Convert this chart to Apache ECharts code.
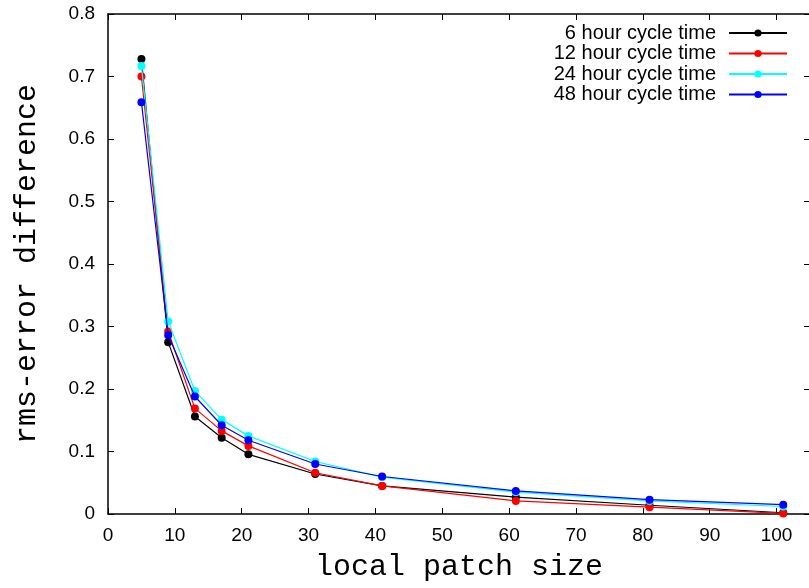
<!DOCTYPE html>
<html>
<head>
<meta charset="utf-8">
<script src="https://cdn.jsdelivr.net/npm/echarts@6/dist/echarts.min.js"></script>
<style>html,body{margin:0;padding:0;background:#fff}#c{width:809px;height:588px}</style>
</head>
<body>
<div id="c"></div>
<script>
var patchSizes = [5, 9, 13, 17, 21, 31, 41, 61, 81, 101];
var cycle6h  = [0.728, 0.275, 0.156, 0.122, 0.0955, 0.064, 0.045, 0.027, 0.014, 0.002];
var cycle12h = [0.700, 0.292, 0.169, 0.133, 0.109, 0.066, 0.045, 0.021, 0.011, 0.001];
var cycle24h = [0.717, 0.308, 0.197, 0.151, 0.125, 0.084, 0.059, 0.035, 0.021, 0.012];
var cycle48h = [0.659, 0.286, 0.188, 0.142, 0.118, 0.080, 0.060, 0.037, 0.023, 0.015];
var seriesNames = ['6 hour cycle time', '12 hour cycle time', '24 hour cycle time', '48 hour cycle time'];
var seriesColors = ['#000000', '#ff0000', '#00ffff', '#0000ff'];
var seriesValues = [cycle6h, cycle12h, cycle24h, cycle48h];

function pairs(xs, ys) { return xs.map(function (x, i) { return [x, ys[i]]; }); }

var chart = echarts.init(document.getElementById('c'), null, {renderer: 'canvas'});
var axisLine = {show: true, onZero: false, lineStyle: {color: '#000', width: 1.5}};
var ticks = {show: true, inside: true, length: 6, lineStyle: {color: '#000', width: 1}};
var lblFont = {color: '#000', fontFamily: 'Liberation Sans', fontSize: 19};
chart.setOption({
  animation: false,
  backgroundColor: '#fff',
  grid: {left: 108, top: 14, width: 702, height: 500, containLabel: false, outerBoundsMode: 'none'},
  legend: {
    orient: 'vertical', right: 16, top: 18, align: 'right',
    itemWidth: 58, itemHeight: 9, itemGap: 0.5,
    textStyle: {color: '#000', fontFamily: 'Liberation Sans', fontSize: 20, lineHeight: 18, padding: [0, 8, 0, 0]},
    data: seriesNames
  },
  xAxis: [{
    type: 'value', min: 0, max: 105, interval: 10, position: 'bottom',
    name: 'local patch size', nameLocation: 'middle', nameGap: 38,
    nameTextStyle: {color: '#000', fontFamily: 'Liberation Mono', fontSize: 30},
    axisLine: axisLine, axisTick: ticks, splitLine: {show: false},
    axisLabel: Object.assign({margin: 12, formatter: function (v) { return v % 10 === 0 ? String(v) : ''; }}, lblFont)
  }, {
    type: 'value', min: 0, max: 105, interval: 10, position: 'top',
    axisLine: axisLine, axisTick: ticks, splitLine: {show: false}, axisLabel: {show: false}
  }],
  yAxis: [{
    type: 'value', min: 0, max: 0.8, interval: 0.1, position: 'left',
    name: 'rms-error difference', nameLocation: 'middle', nameGap: 66,
    nameTextStyle: {color: '#000', fontFamily: 'Liberation Mono', fontSize: 30},
    axisLine: axisLine, axisTick: ticks, splitLine: {show: false},
    axisLabel: Object.assign({margin: 13, formatter: function (v) { return v === 0 ? '0' : v.toFixed(1); }}, lblFont)
  }, {
    type: 'value', min: 0, max: 0.8, interval: 0.1, position: 'right',
    axisLine: axisLine, axisTick: ticks, splitLine: {show: false}, axisLabel: {show: false}
  }],
  series: seriesNames.map(function (n, i) {
    return {
      name: n, type: 'line', xAxisIndex: 0, yAxisIndex: 0,
      data: pairs(patchSizes, seriesValues[i]),
      symbol: 'circle', symbolSize: 8, showSymbol: true,
      itemStyle: {color: seriesColors[i]},
      lineStyle: {color: seriesColors[i], width: 1.2},
      z: 2 + i
    };
  })
});
</script>
</body>
</html>
